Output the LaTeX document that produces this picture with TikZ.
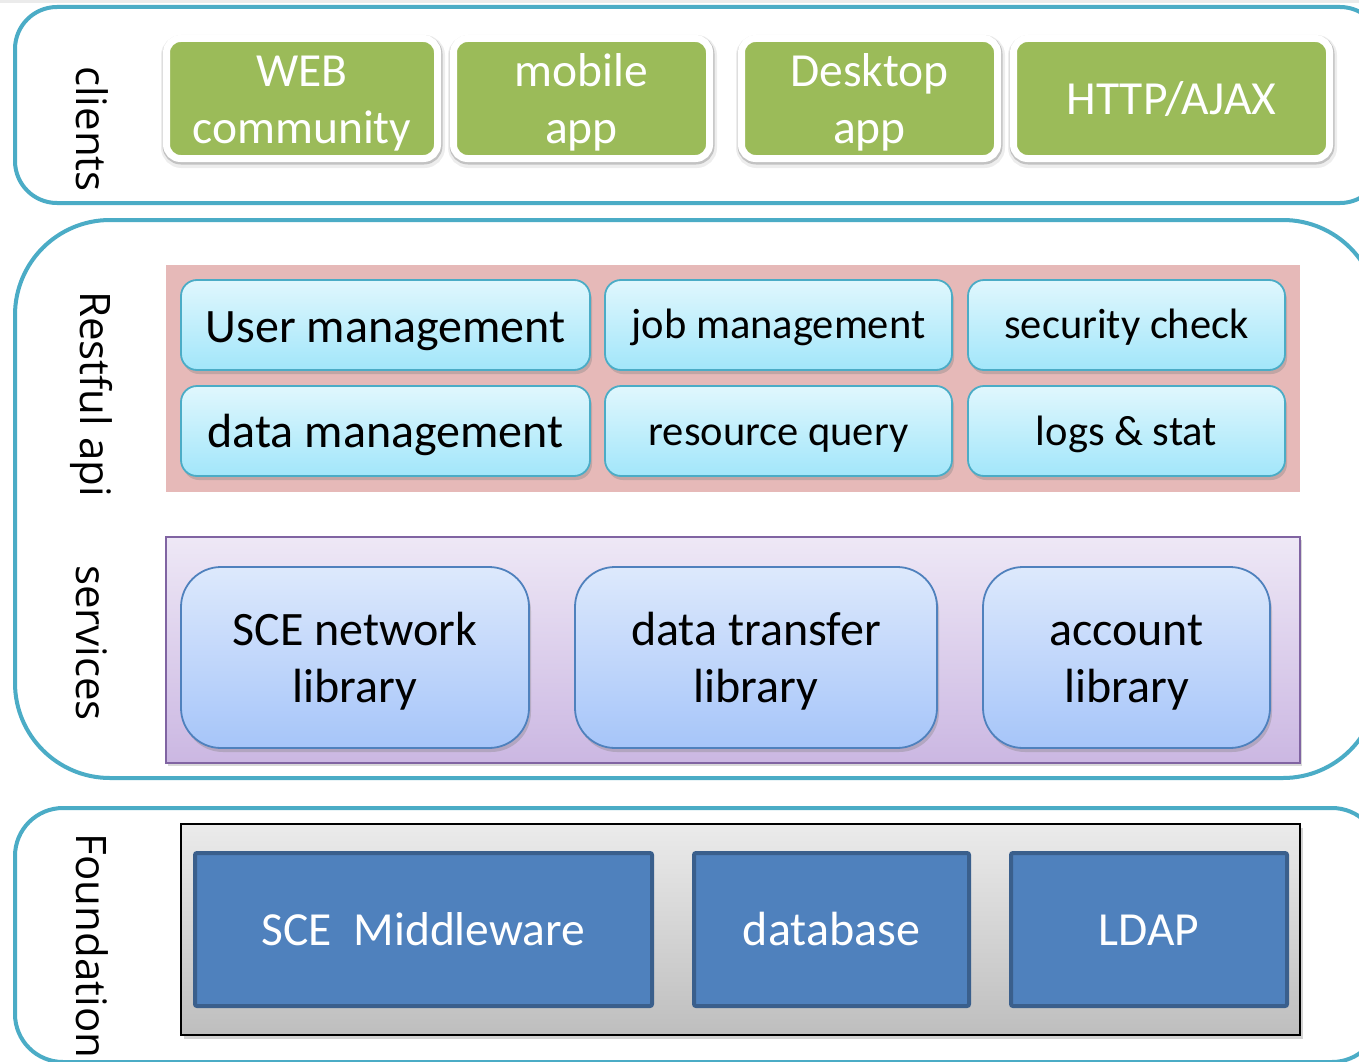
\documentclass[tikz,border=0pt]{standalone}
\usepackage{fontspec}
\setmainfont{Carlito}
\newfontfamily\sidefont{Open Sans}
\usetikzlibrary{shadows}

\definecolor{layerline}{HTML}{4BACC6}
\definecolor{clientgreen}{HTML}{9BBB59}
\definecolor{apipink}{HTML}{E6B9B8}
\definecolor{apitop}{HTML}{E0F7FD}
\definecolor{apibottom}{HTML}{A2E6FA}
\definecolor{svctop}{HTML}{EEE8F6}
\definecolor{svcbottom}{HTML}{CBB7E2}
\definecolor{svcline}{HTML}{8064A2}
\definecolor{libtop}{HTML}{DDE9FC}
\definecolor{libbottom}{HTML}{A6C5F9}
\definecolor{libline}{HTML}{4F81BD}
\definecolor{basefill}{HTML}{4F81BD}
\definecolor{baseline}{HTML}{3A5F8C}
\definecolor{greytop}{HTML}{EBEBEB}
\definecolor{greybottom}{HTML}{BEBEBE}

\newcommand{\fs}[2]{\fontsize{#1}{#2}\selectfont}

\tikzset{
  layer/.style={draw=layerline, line width=4pt},
  sidelabel/.style={rotate=-90, inner sep=0pt, font=\sidefont\fs{42}{48}},
  clientbox/.style={rounded corners=14pt, fill=clientgreen, draw=white,
    line width=7pt, text=white, align=center, inner sep=0pt,
    font=\fs{47.5}{57}, text depth=0pt,
    preaction={draw=black, opacity=0.07, line width=13pt,
      transform canvas={xshift=1pt, yshift=-3pt}},
    preaction={draw=black, opacity=0.18, line width=9pt,
      transform canvas={xshift=0.5pt, yshift=-1.5pt}}},
  apibox/.style={rounded corners=16pt, top color=apitop, bottom color=apibottom,
    draw=layerline, line width=1.8pt, inner sep=0pt, align=center,
    text height=30pt, text depth=0pt,
    drop shadow={shadow xshift=2pt, shadow yshift=-4pt, opacity=0.35}},
  libbox/.style={rounded corners=40pt, top color=libtop, bottom color=libbottom,
    draw=libline, line width=1.8pt, inner sep=0pt, align=center,
    font=\fs{48}{57}, text height=89pt, text depth=0pt,
    drop shadow={shadow xshift=2pt, shadow yshift=-4pt, opacity=0.35}},
  basebox/.style={fill=basefill, draw=baseline, line width=4pt,
    rounded corners=2pt, text=white, inner sep=0pt, font=\fs{47.5}{50},
    text height=31pt, text depth=0pt},
}

\begin{document}
\begin{tikzpicture}[x=1pt, y=-1pt]
  \useasboundingbox (0,0) rectangle (1359,1062);
  \fill[white] (0,0) rectangle (1359,1062);
  \fill[black!8] (0,0) rectangle (1359,3);

  % outer layers
  \draw[layer, rounded corners=42pt] (15,7) rectangle (1382,203);
  \draw[layer, rounded corners=95pt] (15,220) rectangle (1378,778);
  \draw[layer, rounded corners=48pt] (15,808) rectangle (1380,1062);

  % layer names
  \node[sidelabel] (lclients) at (92,129) {clients};
  \node[sidelabel] (lapi) at (92,394) {Restful api};
  \node[sidelabel] (lservices) at (92,643) {services};
  \node[sidelabel] (lfoundation) at (92,946) {Foundation};

  % clients
  \node[clientbox, minimum width=271pt, minimum height=120pt, text height=89pt] (web) at (302,98.5) {WEB\\community};
  \node[clientbox, minimum width=256pt, minimum height=120pt, text height=89pt] (mobile) at (581.5,98.5) {mobile\\app};
  \node[clientbox, minimum width=256pt, minimum height=120pt, text height=89pt] (desktop) at (869.5,98.5) {Desktop\\app};
  \node[clientbox, minimum width=316pt, minimum height=120pt, text height=33pt] (http) at (1171.5,98.5) {HTTP/AJAX};

  % restful api
  \node[fill=apipink, inner sep=0pt, minimum width=1134pt, minimum height=227pt] (apipanel) at (733,378.5) {};
  \node[apibox, minimum width=409pt, minimum height=90pt, font=\fs{48}{50}, text height=34pt] (user) at (385.5,325) {User management};
  \node[apibox, minimum width=347pt, minimum height=90pt, font=\fs{42.5}{50}, text height=26pt] (job) at (778.5,325) {job management};
  \node[apibox, minimum width=317pt, minimum height=90pt, font=\fs{42.5}{50}, text height=26pt] (sec) at (1126.5,325) {security check};
  \node[apibox, minimum width=409pt, minimum height=90pt, font=\fs{48}{50}, text height=32pt] (datam) at (385.5,431) {data management};
  \node[apibox, minimum width=347pt, minimum height=90pt, font=\fs{42.5}{50}, text height=28pt] (res) at (778.5,431) {resource query};
  \node[apibox, minimum width=317pt, minimum height=90pt, font=\fs{42.5}{50}, text height=28pt] (logs) at (1126.5,431) {logs \& stat};

  % services
  \node[top color=svctop, bottom color=svcbottom, draw=svcline, line width=1.8pt,
        inner sep=0pt, minimum width=1134pt, minimum height=226pt,
        drop shadow={shadow xshift=2pt, shadow yshift=-3pt, opacity=0.3}] (svcpanel) at (733,650) {};
  \node[libbox, minimum width=348pt, minimum height=181pt] (scenet) at (355,657.5) {SCE network\\library};
  \node[libbox, minimum width=362pt, minimum height=181pt] (transfer) at (756,657.5) {data transfer\\library};
  \node[libbox, minimum width=287pt, minimum height=181pt] (account) at (1126.5,657.5) {account\\library};

  % foundation
  \node[top color=greytop, bottom color=greybottom, draw=black, line width=1.8pt,
        inner sep=0pt, minimum width=1119pt, minimum height=211pt,
        drop shadow={shadow xshift=3pt, shadow yshift=-4pt, opacity=0.35}] (basepanel) at (740.5,929.5) {};
  \node[basebox, minimum width=457pt, minimum height=153pt] (mw) at (423.5,929.5) {SCE\ \ Middleware};
  \node[basebox, minimum width=275pt, minimum height=153pt, font=\fs{48}{50}] (db) at (831.5,929.5) {database};
  \node[basebox, minimum width=276pt, minimum height=153pt] (ldap) at (1149,929.5) {LDAP};
\end{tikzpicture}
\end{document}
